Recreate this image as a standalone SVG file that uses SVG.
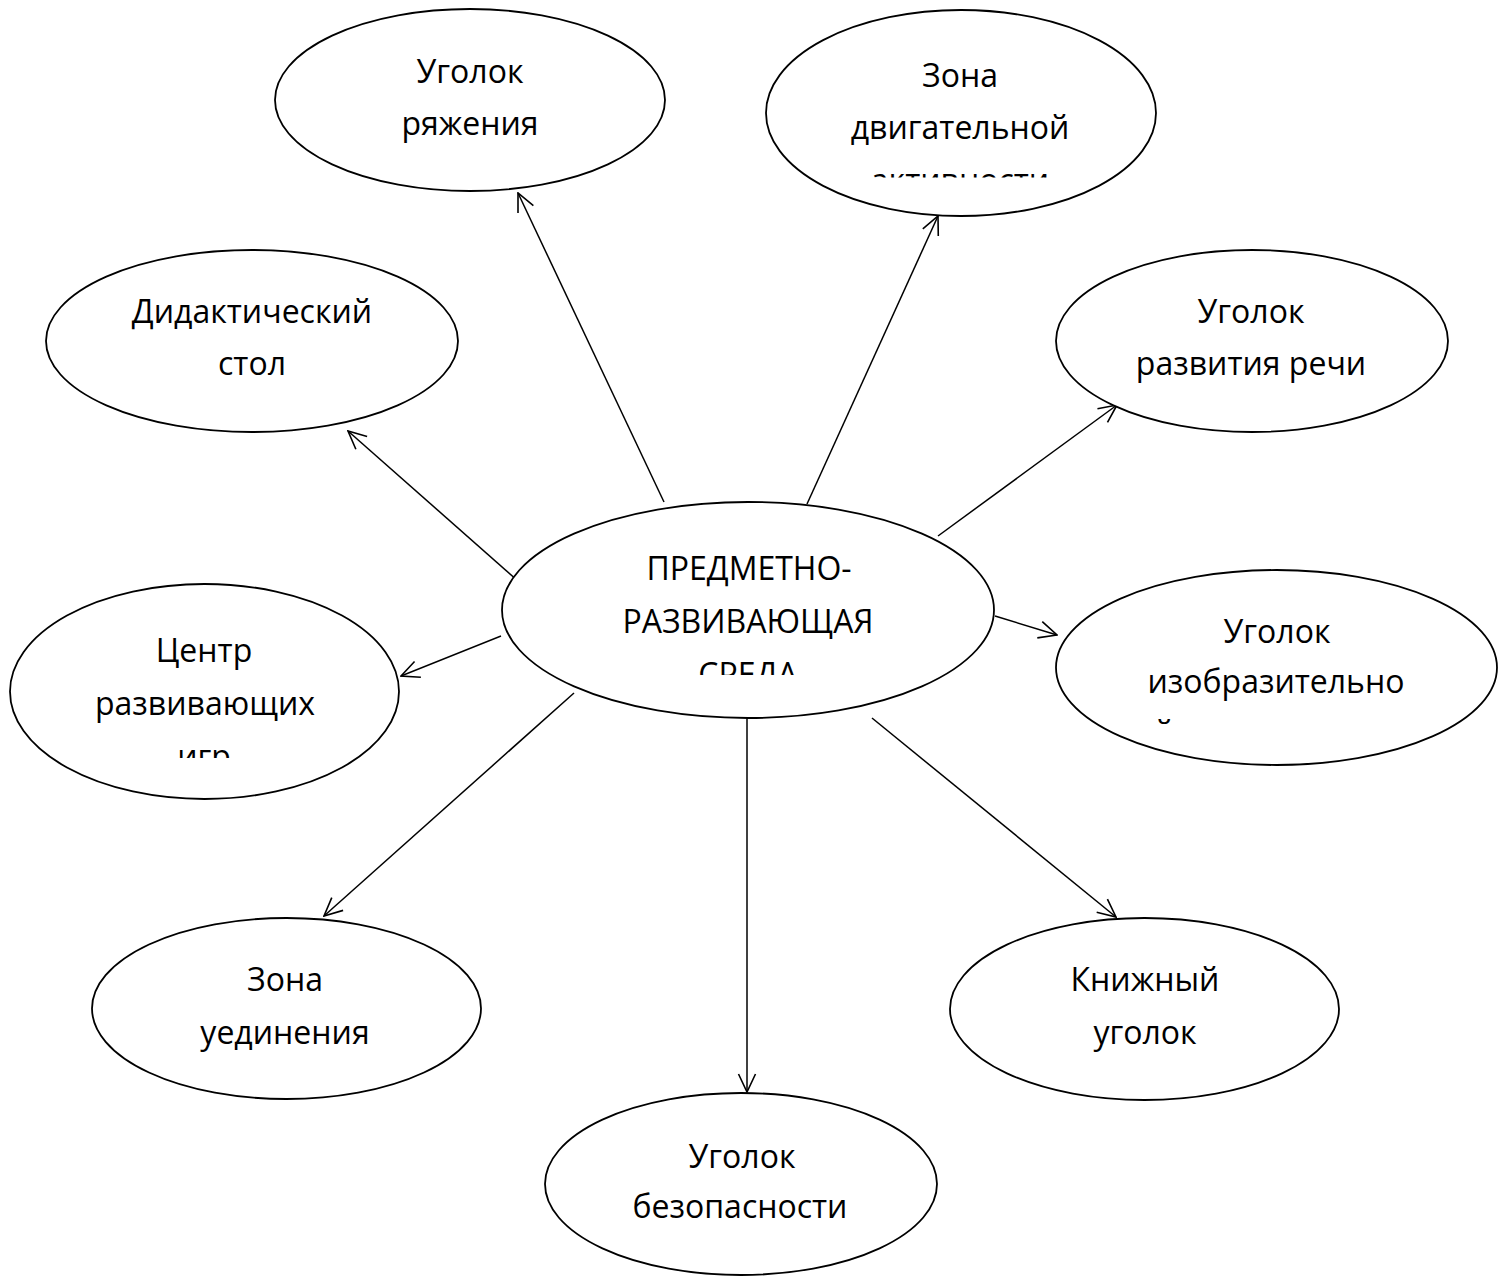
<svg xmlns="http://www.w3.org/2000/svg" width="1511" height="1277" viewBox="0 0 1511 1277">
  <style>
    .node ellipse { fill: #ffffff; stroke: #000000; stroke-width: 1.8; }
    .node text { font-family: "Open Sans", "Liberation Sans", sans-serif; font-size: 32px; fill: #000000; text-anchor: middle; }
    .conn line { stroke: #000000; stroke-width: 1.5; fill: none; marker-end: url(#arrow); }
  </style>
  <defs>
    <marker id="arrow" viewBox="0 0 20 20" refX="19" refY="10" markerWidth="20" markerHeight="20" markerUnits="userSpaceOnUse" orient="auto">
      <path d="M1,1.5 L19,10 L1,18.5" fill="none" stroke="#000000" stroke-width="1.6"/>
    </marker>
    <clipPath id="clipMotor"><rect x="0" y="0" width="1511" height="177.5"/></clipPath>
    <clipPath id="clipCenter"><rect x="0" y="0" width="1511" height="675"/></clipPath>
    <clipPath id="clipGames"><rect x="0" y="0" width="1511" height="758"/></clipPath>
    <clipPath id="clipArt"><rect x="0" y="0" width="1511" height="726"/></clipPath>
  </defs>
  <rect x="0" y="0" width="1511" height="1277" fill="#ffffff"/>

  <g id="connectors" class="conn">
    <line x1="664" y1="502" x2="518" y2="193"/>
    <line x1="807" y1="504" x2="938" y2="216"/>
    <line x1="518" y1="581" x2="348" y2="431"/>
    <line x1="938" y1="536" x2="1117" y2="405"/>
    <line x1="995" y1="616" x2="1057" y2="635"/>
    <line x1="501" y1="636" x2="401" y2="676"/>
    <line x1="574" y1="693" x2="324" y2="916"/>
    <line x1="747" y1="718" x2="747" y2="1092"/>
    <line x1="872" y1="718" x2="1116" y2="917"/>
  </g>

  <g id="node-center" class="node">
    <ellipse cx="748" cy="610" rx="246" ry="108"/>
    <text x="749" y="580">ПРЕДМЕТНО-</text>
    <text x="748" y="633">РАЗВИВАЮЩАЯ</text>
    <text x="748" y="686" clip-path="url(#clipCenter)">СРЕДА</text>
  </g>

  <g id="node-dress" class="node">
    <ellipse cx="470" cy="100" rx="195" ry="91"/>
    <text x="470" y="83">Уголок</text>
    <text x="470" y="135">ряжения</text>
  </g>

  <g id="node-motor" class="node">
    <ellipse cx="961" cy="113" rx="195" ry="103"/>
    <text x="960" y="87">Зона</text>
    <text x="960" y="139">двигательной</text>
    <text x="960" y="192" clip-path="url(#clipMotor)">активности</text>
  </g>

  <g id="node-didactic" class="node">
    <ellipse cx="252" cy="341" rx="206" ry="91"/>
    <text x="252" y="323">Дидактический</text>
    <text x="252" y="375">стол</text>
  </g>

  <g id="node-speech" class="node">
    <ellipse cx="1252" cy="341" rx="196" ry="91"/>
    <text x="1251" y="323">Уголок</text>
    <text x="1251" y="375">развития речи</text>
  </g>

  <g id="node-games" class="node">
    <ellipse cx="204.5" cy="691.5" rx="194.5" ry="107.5"/>
    <text x="204" y="662">Центр</text>
    <text x="205" y="715">развивающих</text>
    <text x="204" y="768" clip-path="url(#clipGames)">игр</text>
  </g>

  <g id="node-art" class="node">
    <ellipse cx="1276.5" cy="667.5" rx="220.5" ry="97.5"/>
    <text x="1277" y="643">Уголок</text>
    <text x="1276" y="693">изобразительно</text>
    <text x="1164" y="744" clip-path="url(#clipArt)">й</text>
  </g>

  <g id="node-solitude" class="node">
    <ellipse cx="286.5" cy="1008.5" rx="194.5" ry="90.5"/>
    <text x="285" y="991">Зона</text>
    <text x="285" y="1044">уединения</text>
  </g>

  <g id="node-books" class="node">
    <ellipse cx="1144.5" cy="1009" rx="194.5" ry="91"/>
    <text x="1145" y="991">Книжный</text>
    <text x="1145" y="1044">уголок</text>
  </g>

  <g id="node-safety" class="node">
    <ellipse cx="741" cy="1184" rx="196" ry="91"/>
    <text x="742" y="1168">Уголок</text>
    <text x="740" y="1218">безопасности</text>
  </g>
</svg>
